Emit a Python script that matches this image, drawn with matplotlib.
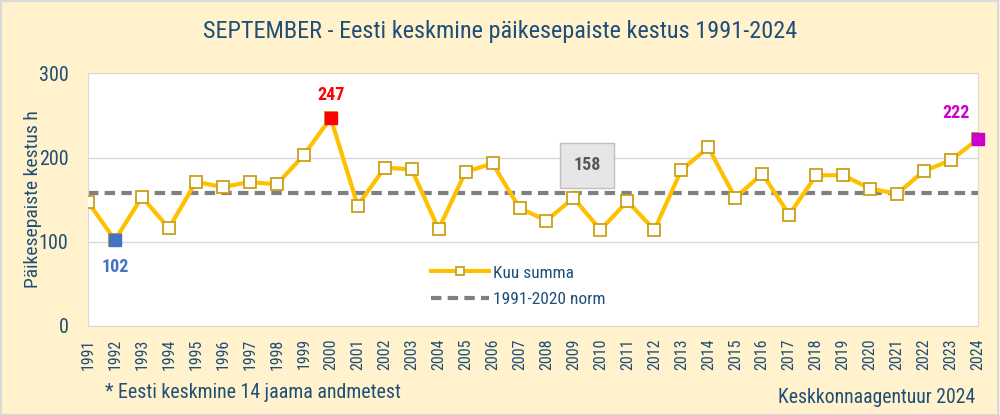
import numpy as np
import matplotlib.pyplot as plt
from matplotlib import font_manager

# September mean sunshine duration in Estonia (h)
years = list(range(1991, 2025))
sunshine = [147, 102, 153, 116, 171, 165, 171, 168, 203, 247,
            143, 188, 186, 115, 183, 193, 140, 125, 152, 114,
            148, 114, 185, 212, 152, 181, 132, 179, 179, 163,
            157, 184, 197, 222]
norm_value = 158
highlights = {1992: '#4472C4', 2000: '#FF0000', 2024: '#CC00CC'}
label_offsets = {1992: (0, -19.5), 2000: (0, 16.5), 2024: (-16, 18.5)}

names = {f.name for f in font_manager.fontManager.ttflist}
family = 'Roboto Condensed' if 'Roboto Condensed' in names else 'Roboto'
plt.rcParams['font.family'] = [family, 'DejaVu Sans']

text_col = '#1F4E79'
bg = '#FFF2CC'

fig = plt.figure(figsize=(10, 4.15), dpi=100, facecolor=bg)
ax = fig.add_axes([0.088, 0.215, 0.89, 0.608])
ax.set_facecolor('white')

ax.plot(years, sunshine, color='#FFC000', lw=3, marker='s', ms=8,
        mfc='white', mec='#C9A018', mew=1.3, label='Kuu summa', zorder=3)
ax.plot([years[0], years[-1]], [norm_value, norm_value], color='#808080',
        lw=3, ls=(0, (2.5, 1.5)), label='1991-2020 norm', zorder=2)

for yr, col in highlights.items():
    v = sunshine[years.index(yr)]
    ax.plot(yr, v, marker='s', ms=8, color=col, mec=col, zorder=4, clip_on=False)
    ax.annotate(str(v), (yr, v), xytext=label_offsets[yr], textcoords='offset points',
                ha='center', va='center', color=col, fontsize=13, fontweight='bold')

ax.text(2009.5, 190.7, str(norm_value), ha='center', va='center', fontsize=13,
        fontweight='bold', color='#595959',
        bbox=dict(boxstyle='square,pad=0.75', fc='#E7E6E6', ec='#BFBFBF', lw=1))

ax.set_xlim(years[0], years[-1])
ax.set_ylim(0, 300)
ax.set_yticks([0, 100, 200, 300])
ax.set_xticks(years)
ax.set_xticks(years[::5], minor=True)
ax.set_xticklabels([str(y) for y in years], rotation=90, fontsize=11.5, color=text_col)
ax.tick_params(axis='x', which='both', length=0, pad=9)
ax.tick_params(axis='y', length=0, labelsize=14.5, labelcolor=text_col, pad=14)
ax.grid(axis='y', color='#D9D9D9', lw=1)
ax.grid(axis='x', which='minor', color='#D9D9D9', lw=1)
for s in ax.spines.values():
    s.set_color('#D9D9D9')

ax.set_ylabel('Päikesepaiste kestus h', fontsize=14, color=text_col, labelpad=-2)

ax.legend(loc='center left', bbox_to_anchor=(0.3675, 0.157), frameon=False,
          fontsize=12.5, labelcolor=text_col, handlelength=3.35, handletextpad=0.25,
          labelspacing=0.65, markerscale=0.75)

fig.text(0.5, 0.923, 'SEPTEMBER - Eesti keskmine päikesepaiste kestus 1991-2024',
         ha='center', va='center', fontsize=17.5, color=text_col)
fig.text(0.105, 0.055, '* Eesti keskmine 14 jaama andmetest', fontsize=14.3,
         color=text_col, va='center')
fig.text(0.975, 0.043, 'Keskkonnaagentuur 2024', fontsize=14.2, color=text_col,
         ha='right', va='center')

fig.patches.append(plt.Rectangle((0.001, 0.001), 0.997, 0.997, transform=fig.transFigure,
                                 fill=False, ec='#D9D9D9', lw=1.5))

fig.savefig('out.png', dpi=100, facecolor=bg)
